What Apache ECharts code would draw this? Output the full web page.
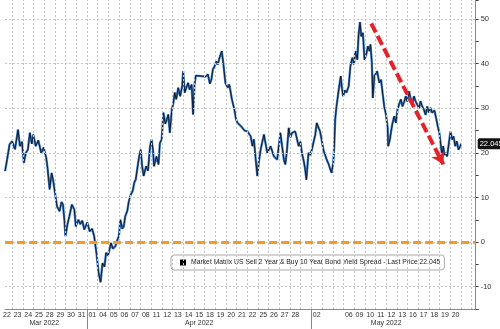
<!DOCTYPE html>
<html>
<head>
<meta charset="utf-8">
<script src="https://cdn.jsdelivr.net/npm/echarts@6/dist/echarts.min.js"></script>
<style>
  html, body { margin: 0; padding: 0; background: #fff; }
  #chart { width: 500px; height: 329px; }
</style>
</head>
<body>
<div id="chart"></div>
<script>
// Trading-day slots on the time axis (blank = session without a printed label)
const dayLabels = ['22','23','24','25','28','29','30','31',
  '01','04','05','06','07','08','11','12','13','14','15','18','19','20','21','22','25','26','27','28','',
  '02','','','06','09','10','11','12','13','16','17','18','19','20'];
const monthNames = ['Mar 2022', 'Apr 2022', 'May 2022'];
const monthFirstDay = [0, 8, 29];

// Intraday spread (bp); time is measured in trading-day slots
const spreadTime = [
  -0.17,0.02,0.25,0.48,0.76,1.04,1.22,1.41,1.59,1.78,1.96,2.15,2.33,2.47,2.70,2.94,3.21,3.44,3.68,3.81,
  4.00,4.19,4.32,4.46,4.69,4.93,5.11,5.25,5.39,5.48,5.67,5.85,6.08,6.31,6.45,6.69,6.87,7.06,7.24,7.52,
  7.75,7.98,8.17,8.40,8.58,8.77,8.95,9.14,9.28,9.46,9.60,9.74,9.93,10.16,10.34,10.48,10.62,10.81,10.94,11.08,
  11.27,11.41,11.59,11.78,11.92,12.06,12.24,12.38,12.52,12.66,12.80,13.03,13.21,13.40,13.54,13.68,13.77,14.00,14.19,14.32,
  14.49,14.65,14.83,14.97,15.11,15.25,15.44,15.57,15.71,15.85,16.04,16.22,16.41,16.50,16.64,16.78,16.96,17.10,17.29,17.43,
  17.56,17.68,18.63,18.81,19.00,19.14,19.28,19.46,19.60,19.74,19.90,20.02,20.11,20.27,20.45,20.67,20.82,21.06,21.29,21.45,
  21.59,21.90,22.06,22.24,22.52,22.82,22.98,23.12,23.29,23.44,23.58,23.75,23.91,24.06,24.21,24.37,24.68,24.99,25.30,25.45,
  25.60,25.76,25.92,26.06,26.22,26.38,26.55,26.69,26.99,27.31,27.47,27.61,27.80,27.92,28.03,28.23,28.40,28.54,28.69,28.86,
  29.00,29.16,29.31,29.46,29.62,29.79,29.93,30.11,30.23,30.39,30.55,30.64,30.73,30.85,30.97,31.06,31.25,31.36,31.47,31.64,
  31.78,31.99,32.15,32.33,32.49,32.61,32.80,32.92,33.05,33.17,33.32,33.47,33.63,33.79,33.94,34.03,34.16,34.25,34.40,34.65,
  34.86,35.02,35.18,35.32,35.48,35.64,35.69,35.85,35.94,36.08,36.25,36.41,36.56,36.73,36.87,37.03,37.19,37.33,37.47,37.64,
  37.80,37.94,38.10,38.26,38.42,38.58,38.72,38.86,39.03,39.19,39.34,39.51,39.65,39.79,39.90,40.02,40.11,40.20,40.32,40.48,
  40.59,40.73,40.84,40.96,41.06,41.21,41.37,41.52,41.68,41.81,41.96,42.11,42.27,42.43,42.52
];
const spreadValue = [
  15.9,18.5,21.9,22.6,20.8,25.2,21.5,22.5,17.8,20.0,20.7,24.5,22.0,24.1,21.5,22.8,20.0,21.2,18.9,16.5,
  11.8,15.5,14.0,14.0,8.0,6.9,9.0,8.4,4.7,1.3,4.0,5.8,8.4,7.3,3.5,5.0,4.0,4.8,2.8,4.4,
  2.4,3.0,1.3,-2.8,-6.9,-9.0,-4.7,-5.5,-2.4,-3.0,-1.7,-0.2,-1.5,-0.9,0.5,1.3,5.0,3.0,3.5,5.8,
  7.0,9.1,10.6,11.5,13.3,14.0,17.0,19.2,20.7,17.0,14.8,17.0,16.0,21.5,23.0,20.5,17.0,19.2,17.4,22.2,
  23.0,29.0,26.5,27.5,28.6,24.5,29.7,31.0,33.5,32.0,34.6,32.7,35.0,38.3,33.5,34.5,35.7,34.2,35.3,28.6,
  35.3,37.3,37.1,37.6,35.5,36.4,38.7,39.5,40.5,39.8,41.3,41.0,42.8,39.8,35.7,34.6,35.3,32.0,29.7,27.5,
  26.7,26.0,26.3,25.0,24.8,23.7,21.5,23.0,18.5,14.8,18.0,20.7,22.5,24.1,24.5,20.0,21.5,19.2,18.5,21.5,
  24.5,21.5,18.5,17.4,20.7,25.6,23.5,24.5,24.8,21.5,22.5,20.0,18.0,16.3,14.0,20.0,19.5,20.7,21.1,24.0,
  26.7,27.1,24.8,23.0,20.7,21.0,18.5,17.5,16.6,15.5,17.8,21.5,27.5,30.4,32.5,34.2,37.2,34.5,32.7,34.0,
  33.5,34.9,39.4,41.3,39.8,42.8,40.9,46.5,49.3,46.1,46.9,40.9,42.0,43.9,42.8,44.3,40.2,32.3,37.2,38.3,
  35.7,36.4,33.1,30.4,28.6,25.6,21.5,23.0,24.5,26.5,28.2,26.7,29.7,31.0,32.0,30.4,31.5,32.7,31.5,33.8,
  32.0,31.0,32.7,31.5,31.2,30.0,31.6,30.5,29.7,28.5,30.4,29.0,30.1,29.0,28.6,29.5,29.7,27.5,26.0,24.5,
  22.2,19.5,21.5,19.5,20.0,19.2,22.2,24.8,23.0,23.7,21.5,22.6,20.7,21.5,22.045
];
const lastPrice = 22.045;
const seriesName = 'Market Matrix US Sell 2 Year & Buy 10 Year Bond Yield Spread';
const yGridValues = [-10, 0, 10, 20, 30, 40, 50];
// Downtrend annotation: [time slot, spread]
const trendStart = [34.1, 49.0];
const trendEnd = [40.85, 17.4];

const FONT = '"Liberation Sans", Arial, sans-serif';
// Visible time window, in trading-day slots
const X_MIN = -0.167, X_MAX = 43.88;

const chart = echarts.init(document.getElementById('chart'), null, { renderer: 'canvas' });

// One label per session, dotted separators between sessions
const dayIndex = dayLabels.map((_, i) => i);
const dayBounds = [];
for (let i = 0; i + 0.5 < X_MAX; i++) dayBounds.push({ xAxis: i + 0.5 });
const spreadPoints = spreadTime.map((t, i) => [t, spreadValue[i]]);

const option = {
  animation: false,
  grid: { left: 0, right: 24.3, top: 0, bottom: 20 },
  legend: {
    left: 171, top: 255,
    data: [{ name: seriesName, icon: 'rect', itemStyle: { color: '#000' } }],
    itemWidth: 6, itemHeight: 6,
    padding: [4, 4, 4, 9],
    borderColor: '#a8a8a8', borderWidth: 1, borderRadius: 3,
    backgroundColor: '#fff',
    textStyle: { fontSize: 6.8, color: '#222', fontFamily: FONT },
    formatter: n => n + ' - Last Price ' + lastPrice.toFixed(3)
  },
  xAxis: {
    type: 'value', min: X_MIN, max: X_MAX,
    axisLine: { show: true, onZero: false, lineStyle: { color: '#8a8a8a', width: 1 } },
    axisTick: { show: false, customValues: dayIndex },
    splitLine: { show: false },
    axisLabel: {
      margin: 3, fontSize: 7, color: '#333', fontFamily: FONT,
      customValues: dayIndex,
      formatter: v => (Number.isInteger(v) && dayLabels[v] !== undefined ? dayLabels[v] : '')
    }
  },
  yAxis: {
    type: 'value', position: 'right', min: -15, max: 54.26, interval: 5,
    axisLine: { show: true, onZero: false, lineStyle: { color: '#8a8a8a', width: 1 } },
    axisTick: { show: true, length: 3, lineStyle: { color: '#444' } },
    splitLine: { show: false },
    axisLabel: {
      margin: 5, fontSize: 7.5, color: '#333', fontFamily: FONT,
      formatter: v => (v % 10 === 0 ? String(v) : '')
    }
  },
  series: [
    {
      name: 'grid', type: 'line', data: [], z: 1, silent: true,
      markLine: {
        silent: true, symbol: 'none', animation: false,
        label: { show: false },
        lineStyle: { color: '#c4c4c4', width: 1, type: [2, 2] },
        data: dayBounds.concat(yGridValues.map(v => ({ yAxis: v })))
      }
    },
    {
      // blue halo under the spread trace
      name: 'spread-halo', type: 'line', z: 2, silent: true,
      data: spreadPoints,
      showSymbol: false, symbol: 'none',
      lineStyle: { color: '#3f7bc2', width: 2.3 }
    },
    {
      name: seriesName, type: 'line', z: 3,
      data: spreadPoints,
      showSymbol: false, symbol: 'none',
      lineStyle: { color: '#0f1d33', width: 1 },
      itemStyle: { color: '#000' }
    },
    {
      name: 'zero', type: 'line', data: [], z: 4, silent: true,
      markLine: {
        silent: true, symbol: 'none', animation: false,
        data: [
          { yAxis: 0, label: { show: false },
            lineStyle: { color: '#f39a2b', width: 3, type: [8, 4] } }
        ]
      }
    },
    {
      name: 'last', type: 'line', data: [], z: 6, silent: true,
      markLine: {
        silent: true, symbol: 'none', animation: false,
        data: [
          { yAxis: lastPrice,
            lineStyle: { width: 0, color: 'rgba(0,0,0,0)' },
            label: {
              show: true, position: 'end', distance: 2,
              formatter: () => lastPrice.toFixed(3),
              backgroundColor: '#111', color: '#fff', borderRadius: 2,
              padding: [2, 2, 1, 2], fontSize: 7.5, fontFamily: FONT
            } }
        ]
      }
    },
    {
      name: 'trend', type: 'line', data: [], z: 5, silent: true,
      markLine: {
        silent: true, animation: false,
        symbol: ['none', 'arrow'], symbolSize: [11, 12],
        label: { show: false },
        lineStyle: { color: '#e3232a', width: 4, type: [10, 4] },
        data: [[{ coord: trendStart }, { coord: trendEnd }]]
      }
    }
  ]
};
chart.setOption(option);

// Month captions and month separators under the axis
const px = u => chart.convertToPixel({ xAxisIndex: 0 }, u);
const axisY = chart.convertToPixel({ yAxisIndex: 0 }, -15);
const lastSlot = dayLabels.length - 1;
const graphics = [];
monthNames.forEach((name, m) => {
  const first = monthFirstDay[m];
  const last = m + 1 < monthFirstDay.length ? monthFirstDay[m + 1] - 1 : lastSlot;
  const x0 = Math.max(0, px(first - 0.5));
  const x1 = px(last + 0.5);
  graphics.push({
    type: 'text', silent: true,
    style: { x: (x0 + x1) / 2, y: axisY + 14, text: name, align: 'center', verticalAlign: 'middle',
             fontSize: 7, fill: '#333', fontFamily: FONT }
  });
  if (m > 0) {
    graphics.push({
      type: 'line', silent: true,
      shape: { x1: Math.round(x0) + 0.5, y1: axisY, x2: Math.round(x0) + 0.5, y2: 329 },
      style: { stroke: '#8a8a8a', lineWidth: 1 }
    });
  }
});
// small list glyph in front of the legend swatch
graphics.push({ type: 'rect', silent: true, shape: { x: 174, y: 260.5, width: 3.5, height: 5 }, style: { fill: '#c8c8c8' } });
chart.setOption({ graphic: graphics });
</script>
</body>
</html>
